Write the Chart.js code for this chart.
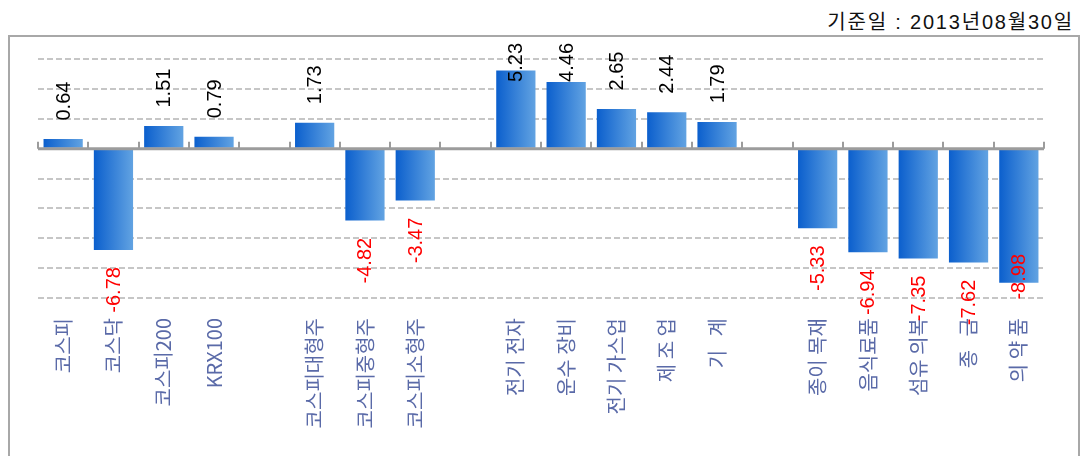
<!DOCTYPE html>
<html lang="ko">
  <head>
    <meta charset="UTF-8" />
    <title>업종별 등락률</title>
    <script src="https://cdn.jsdelivr.net/npm/chart.js@4"></script>
    <style>
      body {
        margin: 0;
        background: #fff;
        width: 1082px;
        height: 456px;
        overflow: hidden;
        position: relative;
      }
      #baseDate {
        position: absolute;
        right: 8px;
        top: 6px;
        font: 20px "Liberation Sans", "Noto Sans CJK KR", sans-serif;
        letter-spacing: 1.8px;
        color: #111;
      }
      #frame {
        position: absolute;
        left: 8px;
        top: 35px;
        width: 1068px;
        height: 440px;
        border: 2px solid #a8a8a8;
      }
      #wrap {
        position: absolute;
        left: 0;
        top: 0;
        width: 1082px;
        height: 456px;
      }
    </style>
  </head>
  <body>
    <div id="baseDate">기준일 : 2013년08월30일</div>
    <div id="frame"></div>
    <div id="wrap"><canvas id="rateChart"></canvas></div>

    <script>
      // 빈 칸('')은 그룹 사이 간격
      const categories = [
        "코스피", "코스닥", "코스피200", "KRX100", "",
        "코스피대형주", "코스피중형주", "코스피소형주", "",
        "전기 전자", "운수 장비", "전기 가스업", "제 조 업", "기   계", "",
        "종이 목재", "음식료품", "섬유 의복", "종   금", "의 약 품"
      ];
      const rates = [
        0.64, -6.78, 1.51, 0.79, null,
        1.73, -4.82, -3.47, null,
        5.23, 4.46, 2.65, 2.44, 1.79, null,
        -5.33, -6.94, -7.35, -7.62, -8.98
      ];
      const yTicks = { min: -10, max: 6, step: 2 };

      function barFill(ctx) {
        const chart = ctx.chart;
        const x = chart.scales.x;
        if (!x || !chart.chartArea) return "#2f7ad8";
        const cx = x.getPixelForValue(ctx.dataIndex);
        const half = (x.width / categories.length) * 0.39;
        const g = chart.ctx.createLinearGradient(cx - half, 0, cx + half, 0);
        g.addColorStop(0, "#0b5fcd");
        g.addColorStop(1, "#62a3e2");
        return g;
      }

      // 0 기준선과 눈금, 값 라벨
      const axisAndLabels = {
        id: "axisAndLabels",
        afterDatasetsDraw(chart) {
          const c = chart.ctx;
          const x = chart.scales.x;
          const y = chart.scales.y;
          const area = chart.chartArea;
          const y0 = y.getPixelForValue(0);
          const slot = x.width / categories.length;
          c.save();
          c.strokeStyle = "#9c9c9c";
          c.lineWidth = 3;
          c.beginPath();
          c.moveTo(x.left, y0);
          c.lineTo(x.right, y0);
          c.stroke();
          c.lineWidth = 2;
          for (let i = 0; i <= categories.length; i++) {
            const px = Math.round(x.left + slot * i);
            c.beginPath();
            c.moveTo(px, y0);
            c.lineTo(px, y0 - 7);
            c.stroke();
          }

          c.font = '20px "Liberation Sans", Arial, sans-serif';
          c.textAlign = "center";
          c.textBaseline = "middle";
          const meta = chart.getDatasetMeta(0);
          meta.data.forEach((bar, i) => {
            const v = rates[i];
            if (v === null) return;
            const txt = v.toFixed(2);
            const w = c.measureText(txt).width;
            let cy;
            if (v >= 0) {
              cy = Math.max(bar.y - 38, 43 + w / 2);
              c.fillStyle = "#000";
            } else {
              cy = bar.y + 40;
              if (cy + w / 2 > area.bottom + 30) cy = bar.y - 6;
              c.fillStyle = "#ff0000";
            }
            c.save();
            c.translate(bar.x, cy);
            c.rotate(-Math.PI / 2);
            c.fillText(txt, 0, 1);
            c.restore();
          });
          c.restore();
        }
      };

      new Chart(document.getElementById("rateChart"), {
        type: "bar",
        data: {
          labels: categories,
          datasets: [
            {
              data: rates,
              backgroundColor: barFill,
              borderWidth: 0,
              barPercentage: 0.78,
              categoryPercentage: 1
            }
          ]
        },
        options: {
          responsive: true,
          maintainAspectRatio: false,
          animation: false,
          layout: { padding: { left: 38, right: 38, top: 59, bottom: 0 } },
          plugins: {
            legend: { display: false },
            tooltip: { enabled: false }
          },
          scales: {
            x: {
              grid: { display: false },
              border: { display: false },
              afterFit(scale) {
                scale.height = 158;
              },
              ticks: {
                maxRotation: 90,
                minRotation: 90,
                autoSkip: false,
                padding: 12,
                color: "#5a6aa8",
                font: { family: '"Noto Sans CJK KR", sans-serif', size: 20 }
              }
            },
            y: {
              min: yTicks.min,
              max: yTicks.max,
              display: true,
              afterFit(scale) {
                scale.width = 0;
              },
              ticks: { display: false, stepSize: yTicks.step },
              border: { display: false, dash: [6, 3] },
              grid: {
                drawTicks: false,
                lineWidth: 2,
                color: (ctx) => (ctx.tick && ctx.tick.value === 0 ? "rgba(0,0,0,0)" : "#c6c6c6")
              }
            }
          }
        },
        plugins: [axisAndLabels]
      });
    </script>
  </body>
</html>
